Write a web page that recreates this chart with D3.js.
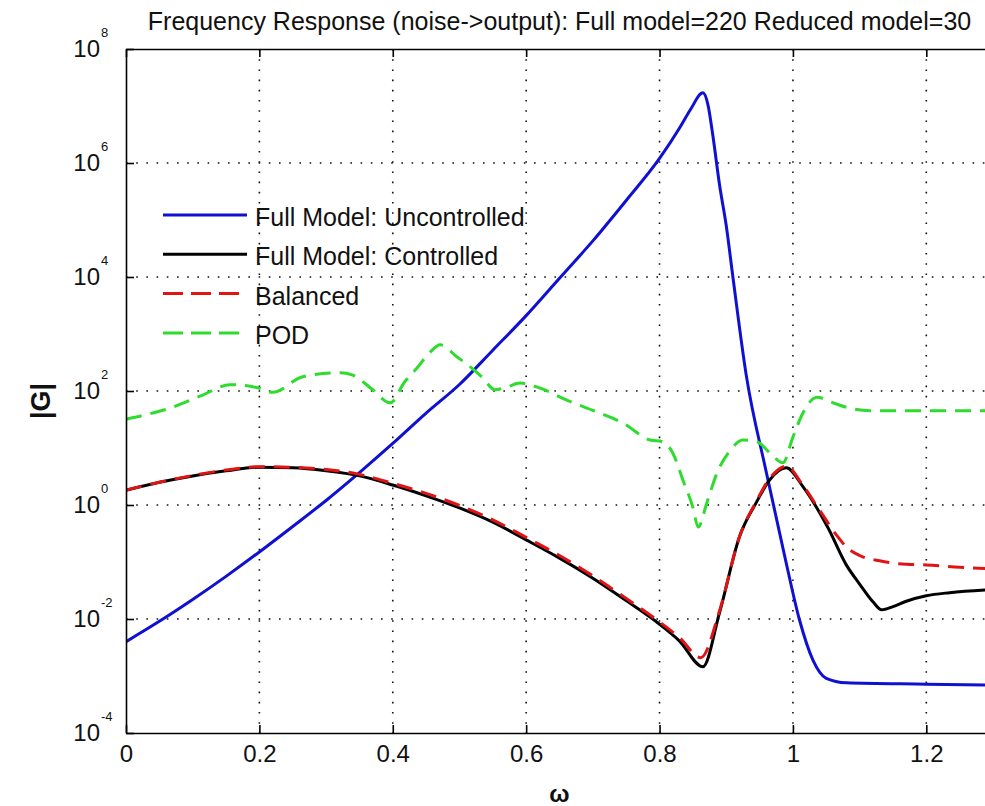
<!DOCTYPE html>
<html>
<head>
<meta charset="utf-8">
<script src="https://cdn.jsdelivr.net/npm/d3@7"></script>
<style>
body { margin: 0; background: #fff; overflow: hidden; }
svg { display: block; font-family: Arial, "Liberation Sans", sans-serif; }
</style>
</head>
<body>
<div id="chart"></div>
<script>
// Full model: uncontrolled
uncW = [0, 0.05, 0.1, 0.15, 0.2, 0.25, 0.3, 0.35, 0.4, 0.45, 0.5, 0.55, 0.6, 0.65, 0.7, 0.75, 0.8, 0.83, 0.846, 0.865, 0.8726, 0.88, 0.89, 0.9, 0.91, 0.93, 0.96, 0.99, 1.01, 1.03, 1.05, 1.08, 1.2, 1.3]
uncG = [4.0e-3, 9.1e-3, 2.2e-2, 5.6e-2, 0.15, 0.42, 1.2, 3.7, 12, 41, 130, 520, 2.1e3, 9.5e3, 4.3e4, 2.2e5, 1.2e6, 4.1e6, 8.5e6, 1.7e7, 1.05e7, 3.0e6, 4.1e5, 8.0e4, 1.0e4, 190, 3.8, 9.5e-2, 9.5e-3, 1.9e-3, 9.1e-4, 7.6e-4, 7.2e-4, 6.9e-4]

// Full model: controlled
conW = [0, 0.05, 0.1, 0.15, 0.2, 0.25, 0.3, 0.35, 0.4, 0.45, 0.5, 0.55, 0.6, 0.65, 0.7, 0.75, 0.8, 0.83, 0.865, 0.89, 0.92, 0.945, 0.965, 0.99, 1.015, 1.053, 1.08, 1.1, 1.12, 1.133, 1.15, 1.17, 1.2, 1.235, 1.3]
conG = [1.82, 2.5, 3.24, 3.98, 4.6, 4.5, 3.98, 3.24, 2.24, 1.45, 0.89, 0.50, 0.245, 0.117, 0.052, 0.021, 8.1e-3, 4.1e-3, 1.45e-3, 0.013, 0.28, 1.1, 2.75, 4.5, 2.1, 0.39, 0.089, 0.041, 0.020, 0.0145, 0.0165, 0.0205, 0.0255, 0.029, 0.033]

// Balanced reduced model
balW = [0, 0.05, 0.1, 0.15, 0.2, 0.25, 0.3, 0.35, 0.4, 0.45, 0.5, 0.55, 0.6, 0.65, 0.7, 0.75, 0.8, 0.83, 0.862, 0.89, 0.92, 0.945, 0.965, 0.99, 1.015, 1.04, 1.065, 1.081, 1.1, 1.13, 1.17, 1.2, 1.25, 1.3]
balG = [1.82, 2.5, 3.3, 4.1, 4.7, 4.6, 4.2, 3.45, 2.4, 1.6, 0.98, 0.55, 0.27, 0.13, 0.057, 0.023, 8.9e-3, 4.7e-3, 2.1e-3, 0.014, 0.28, 1.15, 2.9, 4.8, 2.2, 0.81, 0.30, 0.18, 0.13, 0.105, 0.091, 0.089, 0.081, 0.076]

// POD reduced model
podW = [0, 0.04, 0.066, 0.091, 0.115, 0.156, 0.2, 0.22, 0.265, 0.321, 0.34, 0.37, 0.396, 0.418, 0.436, 0.456, 0.471, 0.496, 0.519, 0.535, 0.553, 0.571, 0.591, 0.621, 0.661, 0.706, 0.745, 0.786, 0.804, 0.82, 0.835, 0.85, 0.858, 0.871, 0.886, 0.906, 0.925, 0.946, 0.966, 0.985, 1.0, 1.015, 1.036, 1.06, 1.085, 1.115, 1.3]
podG = [32, 41, 50, 65, 85, 129, 112, 95, 178, 209, 190, 105, 62, 145, 250, 480, 645, 400, 250, 170, 105, 117, 138, 112, 69, 43, 27.5, 13.8, 12.9, 8.1, 2.75, 0.91, 0.41, 1.1, 3.6, 9.1, 13.8, 12.9, 8.1, 5.5, 15.5, 41, 78, 62, 50, 45, 45]

xTicks = [0, 0.2, 0.4, 0.6, 0.8, 1, 1.2]
yTicks = [1e-4, 1e-2, 1e0, 1e2, 1e4, 1e6, 1e8]
yExps = ["-4", "-2", "0", "2", "4", "6", "8"]

legendNames = ["Full Model: Uncontrolled", "Full Model: Controlled", "Balanced", "POD"]

series = [
    {name: legendNames[0], w: uncW, g: uncG, color: "#1010d2", dash: null},
    {name: legendNames[1], w: conW, g: conG, color: "#000000", dash: null},
    {name: legendNames[2], w: balW, g: balG, color: "#e01414", dash: "16,9"},
    {name: legendNames[3], w: podW, g: podG, color: "#2ddc2d", dash: "16,9"}
]

chartW = 985
chartH = 806
plotL = 126
plotT = 49
plotB = 733
plotR = 993

svg = d3.select("#chart")
    .append("svg")
    .attr("width", chartW)
    .attr("height", chartH)

x = d3.scaleLinear().domain([0, 1.3]).range([plotL, plotR])
y = d3.scaleLog().domain([1e-4, 1e8]).range([plotB, plotT])

// grid
svg.append("g")
    .selectAll("line")
    .data(xTicks.slice(1))
    .enter()
    .append("line")
    .attr("x1", (d) => x(d)).attr("x2", (d) => x(d))
    .attr("y1", plotT).attr("y2", plotB)
    .attr("stroke", "#111")
    .attr("stroke-width", 1.6)
    .attr("stroke-dasharray", "1.6,8.6")

svg.append("g")
    .selectAll("line")
    .data(yTicks.slice(1, -1))
    .enter()
    .append("line")
    .attr("x1", plotL).attr("x2", plotR)
    .attr("y1", (d) => y(d)).attr("y2", (d) => y(d))
    .attr("stroke", "#111")
    .attr("stroke-width", 1.6)
    .attr("stroke-dasharray", "1.6,8.6")

// curves
svg.append("clipPath").attr("id", "clip")
    .append("rect")
    .attr("x", plotL).attr("y", plotT)
    .attr("width", plotR - plotL).attr("height", plotB - plotT)

line = d3.line()
    .x((d) => x(d[0]))
    .y((d) => y(d[1]))
    .curve(d3.curveMonotoneX)

svg.append("g")
    .attr("clip-path", "url(#clip)")
    .selectAll("path")
    .data(series)
    .enter()
    .append("path")
    .attr("fill", "none")
    .attr("stroke", (s) => s.color)
    .attr("stroke-width", 3)
    .attr("stroke-linejoin", "round")
    .attr("stroke-dasharray", (s) => s.dash)
    .attr("d", (s) => line(s.w.map((w, i) => [w, s.g[i]])))

// axes
axisStyle = function(g) {
    g.select(".domain").attr("stroke", "#000").attr("stroke-width", 1.6)
    g.selectAll(".tick line").attr("stroke", "#000").attr("stroke-width", 1.6)
}

svg.append("g")
    .attr("transform", "translate(0," + plotB + ")")
    .call(d3.axisBottom(x).tickValues(xTicks).tickSize(-8).tickSizeOuter(0).tickPadding(12)
        .tickFormat((d) => d3.format("")(d)))
    .call(axisStyle)
    .selectAll("text")
    .attr("font-size", 24)
    .attr("font-family", "Arial, 'Liberation Sans', sans-serif")
    .attr("fill", "#111")

svg.append("g")
    .attr("transform", "translate(0," + plotT + ")")
    .call(d3.axisTop(x).tickValues(xTicks).tickSize(-8).tickSizeOuter(0).tickFormat(""))
    .call(axisStyle)

svg.append("g")
    .attr("transform", "translate(" + plotL + ",0)")
    .call(d3.axisLeft(y).tickValues(yTicks).tickSize(-8).tickSizeOuter(0).tickFormat(""))
    .call(axisStyle)

labels = svg.append("g")
    .selectAll("g")
    .data(yTicks)
    .enter()
    .append("g")

labels.append("text")
    .attr("x", 100)
    .attr("y", (d) => y(d) + 8)
    .attr("text-anchor", "end")
    .attr("font-size", 24)
    .attr("fill", "#111")
    .text("10")

labels.append("text")
    .attr("x", 101)
    .attr("y", (d) => y(d) - 12)
    .attr("font-size", 13)
    .attr("fill", "#111")
    .text((d, i) => yExps[i])

// title and axis labels
svg.append("text")
    .attr("x", (plotL + plotR) / 2)
    .attr("y", 30)
    .attr("text-anchor", "middle")
    .attr("font-size", 25)
    .attr("fill", "#111")
    .text("Frequency Response (noise->output): Full model=220 Reduced model=30")

svg.append("text")
    .attr("x", (plotL + plotR) / 2)
    .attr("y", 802)
    .attr("text-anchor", "middle")
    .attr("font-size", 24)
    .attr("font-weight", "bold")
    .attr("fill", "#111")
    .text("ω")

svg.append("text")
    .attr("transform", "translate(50,401) rotate(-90)")
    .attr("text-anchor", "middle")
    .attr("font-size", 27)
    .attr("font-weight", "bold")
    .attr("fill", "#111")
    .text("|G|")

// legend (no box)
legend = svg.append("g")
    .selectAll("g")
    .data(series)
    .enter()
    .append("g")
    .attr("transform", (s, i) => "translate(163," + (215 + i * 39.3) + ")")

legend.append("line")
    .attr("x1", 0).attr("x2", 84)
    .attr("stroke", (s) => s.color)
    .attr("stroke-width", 3)
    .attr("stroke-dasharray", (s) => s.dash ? "20,8" : null)

legend.append("text")
    .attr("x", 92)
    .attr("y", 11)
    .attr("font-size", 25)
    .attr("fill", "#111")
    .text((s) => s.name)
</script>
</body>
</html>
